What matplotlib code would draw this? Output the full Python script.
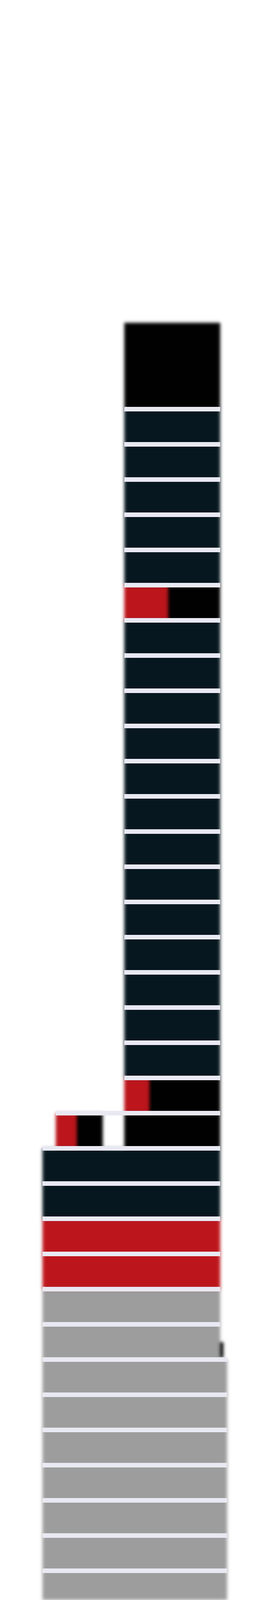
import numpy as np
import matplotlib
matplotlib.use("Agg")
import matplotlib.pyplot as plt
from matplotlib.patches import Rectangle
from matplotlib.collections import PatchCollection

# one entry per floor, floor 0 is just below the roof
floor_kind = (['navy'] * 5 + ['black'] + ['navy'] * 13 +
              ['black', 'black', 'navy', 'navy', 'red', 'red'] + ['grey'] * 9)
floor_left = [272] * 21 + [93] * 13
floor_right = [482] * 27 + [497] * 7

# red share painted over the left part of some floors
red_floor = [5, 19, 20]
red_left = [272, 272, 122]
red_right = [368, 327, 168]

# small annex on floor 20
annex_floor = [20]
annex_left = [122]
annex_right = [225]

# roof block above floor 0
roof_height = 2.45
roof_left = 272
roof_right = 482

# dark spot in the corner where the base steps out (floor, left, right, top, bottom)
notch = (26, 482, 489, 0.5, 0.95)

colors = {'navy': '#06161e', 'black': '#000000', 'red': '#bc151c', 'grey': '#9d9d9d'}
gap_color = '#e9e9f3'


def soft_edges(im, dpi):
    # gaussian blur on premultiplied rgba so edges fade to white
    sigma = 3.6
    pad = 12
    a = np.pad(im, ((pad, pad), (pad, pad), (0, 0)))
    a[..., :3] *= a[..., 3:4]
    x = np.arange(-pad, pad + 1)
    k = np.exp(-x ** 2 / (2 * sigma ** 2))
    k /= k.sum()
    tmp = sum(kv * np.roll(a, s, axis=0) for kv, s in zip(k, x))
    out = sum(kv * np.roll(tmp, s, axis=1) for kv, s in zip(k, x))
    alpha = out[..., 3:4]
    out[..., :3] = np.where(alpha > 0, out[..., :3] / np.maximum(alpha, 1e-6), 0)
    return np.clip(out, 0, 1), -pad, -pad


fig = plt.figure(figsize=(5.8, 35), dpi=100)
ax = fig.add_axes([0, 0, 1, 1])
ax.set_xlim(0, 580)
ax.set_ylim(33.83, -11.62)
ax.axis('off')

patches = []
fcols = []
patches.append(Rectangle((roof_left, -roof_height), roof_right - roof_left, roof_height))
fcols.append(colors['black'])
for i, kind in enumerate(floor_kind):
    patches.append(Rectangle((floor_left[i], i), floor_right[i] - floor_left[i], 1))
    fcols.append(colors[kind])
for f, l, r in zip(annex_floor, annex_left, annex_right):
    patches.append(Rectangle((l, f), r - l, 1))
    fcols.append(colors['black'])
for f, l, r in zip(red_floor, red_left, red_right):
    patches.append(Rectangle((l, f), r - l, 1))
    fcols.append(colors['red'])
nf, nl, nr, nt, nb = notch
patches.append(Rectangle((nl, nf + nt), nr - nl, nb - nt))
fcols.append(colors['black'])

pc = PatchCollection(patches, facecolors=fcols, edgecolors='none')
pc.set_agg_filter(soft_edges)
pc.set_rasterized(True)
ax.add_collection(pc)

# separators between floors span the union of the floors on both sides
n = len(floor_kind)
gap_y, gap_l, gap_r = [], [], []
for k in range(n):
    ls = [floor_left[k]]
    rs = [floor_right[k]]
    if k == 0:
        ls.append(roof_left)
        rs.append(roof_right)
    else:
        ls.append(floor_left[k - 1])
        rs.append(floor_right[k - 1])
    for f, l, r in zip(annex_floor, annex_left, annex_right):
        if f == k or f == k - 1:
            ls.append(l)
            rs.append(r)
    gap_y.append(k)
    gap_l.append(min(ls))
    gap_r.append(max(rs))

ax.barh(gap_y, np.array(gap_r) - np.array(gap_l), left=gap_l, height=0.13,
        color=gap_color, linewidth=0)

fig.savefig('out.png', dpi=100, facecolor='white')
